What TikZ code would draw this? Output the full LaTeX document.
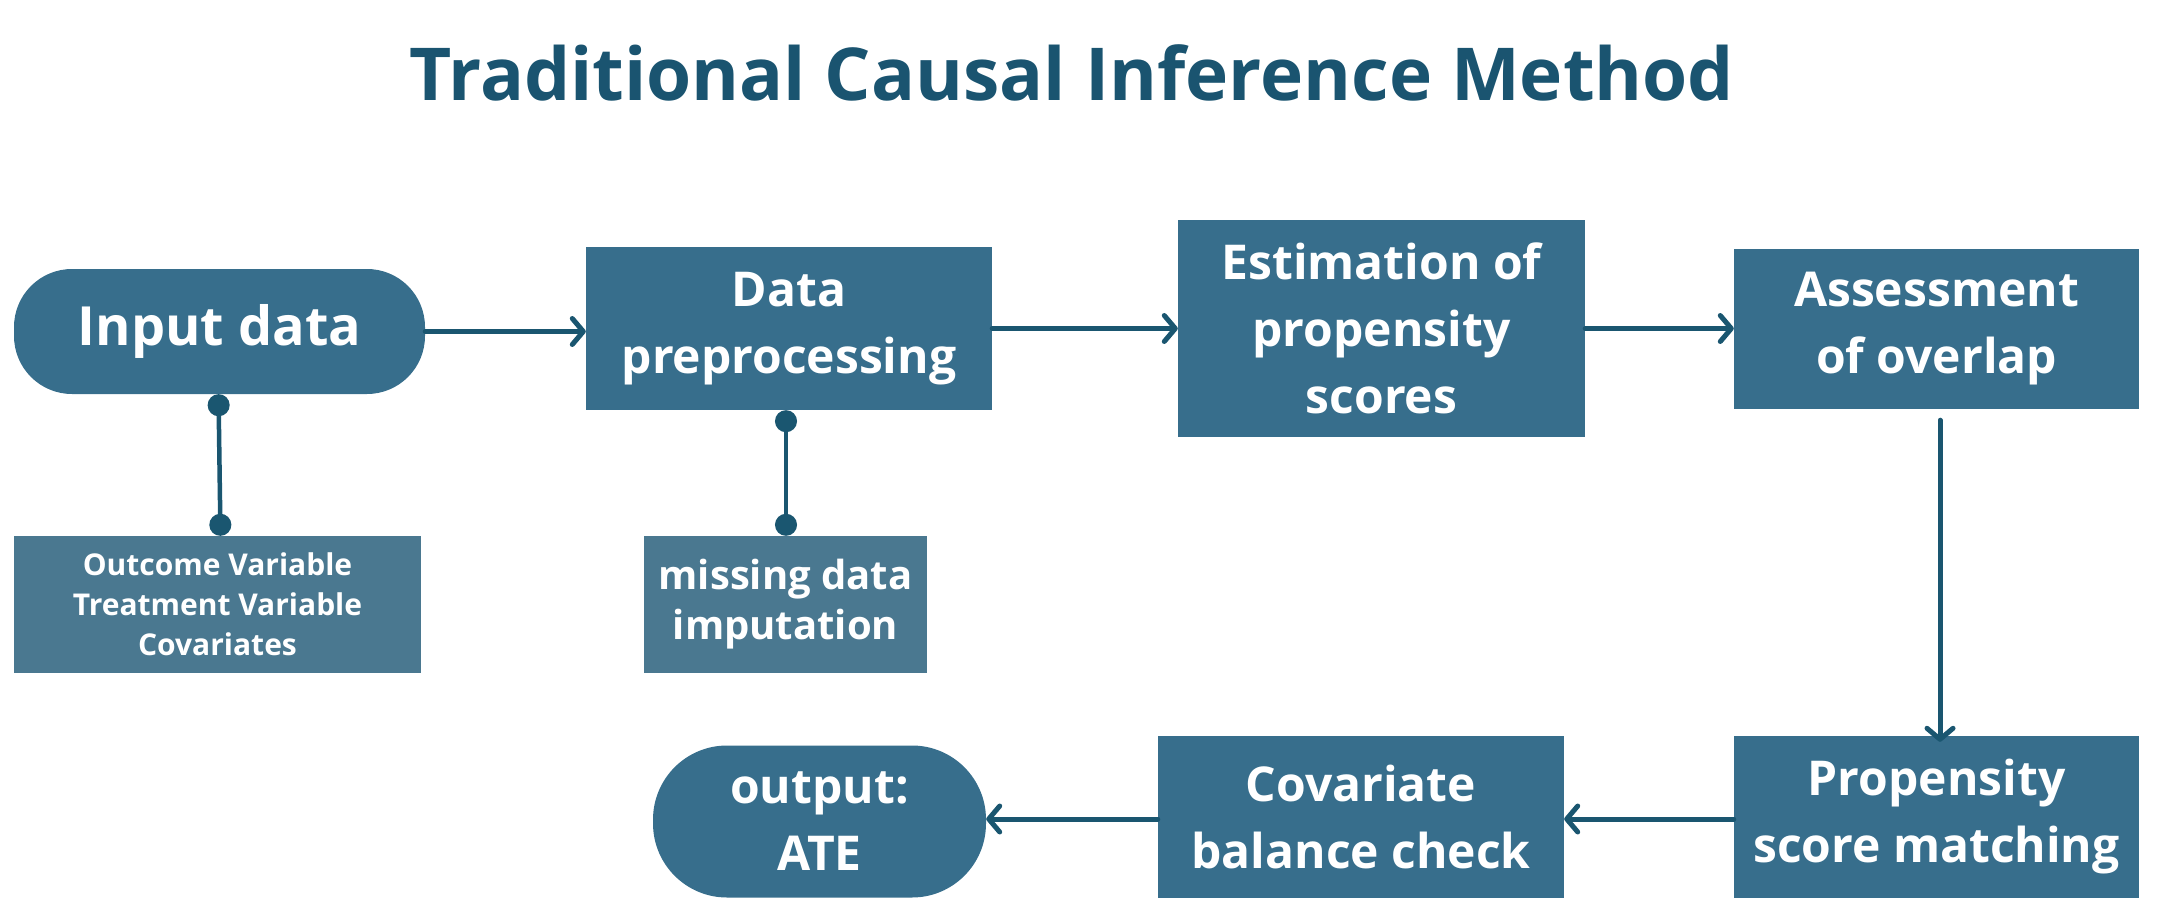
\documentclass[tikz,border=0pt]{standalone}
\usepackage{fontspec}
\setmainfont{Open Sans}[BoldFont={Open Sans Bold}]
\usetikzlibrary{arrows.meta}
\definecolor{boxmain}{RGB}{55,110,140}
\definecolor{boxlight}{RGB}{74,120,144}
\definecolor{linec}{RGB}{26,86,112}
\definecolor{titlec}{RGB}{26,84,112}
\tikzset{
  stepbox/.style={fill=boxmain, draw=none, text=white, align=center, inner sep=0pt,
    font=\bfseries\fontsize{48}{67}\selectfont},
  subbox/.style={fill=boxlight, draw=none, text=white, align=center, inner sep=0pt},
  flow/.style={draw=linec, line width=5pt, line cap=round,
    -{Straight Barb[length=11pt,width=26pt,line cap=round,line join=round]}},
  dotline/.style={draw=linec, line width=4.5pt,
    {Circle[length=22pt]}-{Circle[length=22pt]}},
}
\begin{document}
\begin{tikzpicture}[x=1pt,y=-1pt]
\useasboundingbox (0,0) rectangle (2166,920);
\node[anchor=base, text=titlec, font=\bfseries\fontsize{73}{80}\selectfont] (title) at (1072,101) {Traditional Causal Inference Method};

\node[stepbox, rounded corners=58pt, minimum width=411pt, minimum height=125pt,
  font=\bfseries\fontsize{54}{66}\selectfont] (in) at (219.5,331.5) {Input data};
\node[stepbox, minimum width=406pt, minimum height=163pt] (pre) at (789,328.5) {Data\\preprocessing};
\node[stepbox, minimum width=407pt, minimum height=217pt] (est) at (1381.5,328.5) {Estimation of\\propensity\\scores};
\node[stepbox, minimum width=405pt, minimum height=160pt] (ass) at (1936.5,329) {Assessment\\of overlap};
\node[stepbox, minimum width=405pt, minimum height=162pt] (psm) at (1936.5,817) {Propensity\\score matching};
\node[stepbox, minimum width=406pt, minimum height=162pt] (cov) at (1361,817) {Covariate\\balance check};
\node[stepbox, rounded corners=74pt, minimum width=333pt, minimum height=152pt] (out) at (819.5,821.5) {output:\\ATE};

\node[subbox, minimum width=407pt, minimum height=137pt,
  font=\bfseries\fontsize{30}{40}\selectfont] (var) at (217.5,604.5) {Outcome Variable\\Treatment Variable\\Covariates};
\node[subbox, minimum width=283pt, minimum height=137pt,
  font=\bfseries\fontsize{40}{50}\selectfont] (miss) at (785.5,604.5) {missing data\\imputation};

\draw[flow] (in.east) -- (in.east -| pre.west);
\draw[flow] (pre.east) -- (pre.east -| est.west);
\draw[flow] (est.east) -- (est.east -| ass.west);
\draw[flow] ([shift={(3.5pt,-11pt)}]ass.south) -- ([xshift=3.5pt,yshift=-6pt]psm.north);
\draw[flow] ([yshift=-2pt]psm.west) -- ([yshift=-2pt]psm.west -| cov.east);
\draw[flow] ([yshift=-2pt]cov.west) -- ([yshift=-2pt]cov.west -| out.east);

\draw[dotline] ([xshift=-1pt]in.south) -- ([xshift=1pt]in.south |- var.north);
\draw[dotline] ([xshift=-3pt]pre.south) -- ([xshift=-3pt]pre.south |- miss.north) ;
\end{tikzpicture}
\end{document}
